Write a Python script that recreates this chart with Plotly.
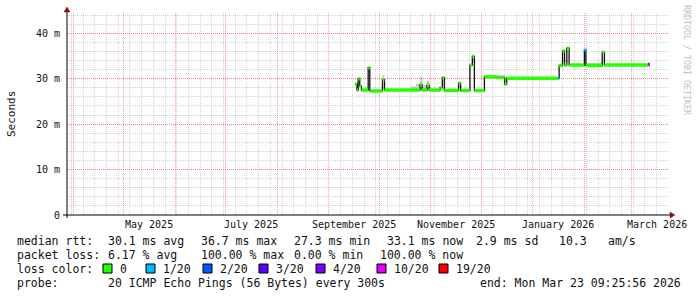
import plotly.graph_objects as go
import datetime as _dt

# ---------------- data ----------------
# median RTT step series (segment start, value in ms, loss count out of 20)
seg_start = [
    "2025-09-16 14:00", "2025-09-17 19:00", "2025-09-18 12:00", "2025-09-19 11:00",
    "2025-09-20 11:00", "2025-09-24 12:00", "2025-09-25 11:00", "2025-10-03 01:00",
    "2025-10-04 06:00", "2025-10-25 12:30", "2025-10-26 17:00", "2025-10-29 17:00",
    "2025-10-30 22:00", "2025-11-06 12:00", "2025-11-07 20:00", "2025-11-09 00:30",
    "2025-11-17 14:00", "2025-11-18 19:00", "2025-11-24 08:30", "2025-11-25 19:00",
    "2025-11-27 00:00", "2025-12-03 00:00", "2025-12-10 08:30", "2025-12-15 03:30",
    "2025-12-16 08:30", "2026-01-16 02:00", "2026-01-16 16:30", "2026-01-18 17:00",
    "2026-01-19 22:00", "2026-01-21 07:00", "2026-01-22 16:00", "2026-01-31 19:00",
    "2026-02-01 16:30", "2026-02-11 11:00", "2026-02-12 18:30", "2026-03-10 20:00",
]
seg_value_ms = [
    28.8, 27.5, 30.0, 28.4,
    27.5, 32.4, 27.3, 29.8,
    27.5, 28.7, 27.5, 28.6,
    27.5, 28.0, 30.2, 27.4,
    29.0, 27.4, 33.0, 34.9,
    27.4, 30.4, 30.3, 28.8,
    30.1, 30.1, 32.9, 36.1,
    33.0, 36.7, 33.0, 36.3,
    32.9, 35.8, 33.0, 33.1,
]
seg_loss = [
    0, 0, 0, 0,
    0, 0, 0, 0,
    0, 0, 0, 0,
    0, 0, 0, 0,
    0, 0, 0, 0,
    0, 0, 0, 0,
    0, 1, 0, 0,
    0, 0, 0, 1,
    0, 0, 0, 10,
]
series_end = "2026-03-12 00:45"

# smoke (ping spread) regions
smoke_start = ["2025-10-03 01:00", "2025-10-20 00:00", "2025-10-23 00:00", "2025-10-25 12:30",
               "2025-10-26 17:00", "2025-10-29 17:00", "2025-10-30 22:00", "2026-02-01 16:30"]
smoke_end = ["2025-10-04 06:00", "2025-10-23 00:00", "2025-10-25 12:30", "2025-10-26 17:00",
             "2025-10-29 17:00", "2025-10-30 22:00", "2025-11-01 00:00", "2026-02-11 11:00"]
smoke_low = [29.6, 27.5, 27.5, 28.6, 27.5, 28.6, 27.5, 32.9]
smoke_high = [30.8, 28.3, 28.9, 30.5, 28.6, 29.6, 28.2, 33.5]

loss_levels = [0, 1, 2, 3, 4, 10, 19]
loss_labels = ["0", "1/20", "2/20", "3/20", "4/20", "10/20", "19/20"]
loss_colors = ["#26ff00", "#00b8ff", "#0059ff", "#5e00ff", "#7e00ff", "#dd00ff", "#ff0000"]

x_range = ["2025-03-28 09:25:56", "2026-03-23 09:25:56"]
y_max = 44.45
y_ticks = [0, 10, 20, 30, 40]
y_ticktext = ["0", "10 m", "20 m", "30 m", "40 m"]

month_label_starts = ["2025-05-01", "2025-07-01", "2025-09-01", "2025-11-01", "2026-01-01", "2026-03-01"]
month_labels = ["May 2025", "July 2025", "September 2025", "November 2025", "January 2026", "March 2026"]

legend_rtt = [("median rtt:", 16), ("30.1 ms avg", 107), ("36.7 ms max", 200), ("27.3 ms min", 293),
              ("33.1 ms now", 386), ("2.9 ms sd", 475), ("10.3", 558), ("am/s", 607)]
legend_loss = [("packet loss:", 16), ("6.17 % avg", 107), ("100.00 % max", 200), ("0.00 % min", 293),
               ("100.00 % now", 379)]
legend_probe = [("probe:", 16), ("20 ICMP Echo Pings (56 Bytes) every 300s", 107),
                ("end: Mon Mar 23 09:25:56 2026", 479)]
square_px = [103, 146, 203, 259, 316, 377, 439]

# ---------------- geometry helpers ----------------
W, H = 697, 297
L, R, T, B = 67, 669, 13, 215
PW, PH = R - L, B - T


def px(x):
    return (x - L) / PW


def py(y):
    return (B - y) / PH


MONO = "DejaVu Sans Mono"

fig = go.Figure()

# smoke
sx, sy = [], []
for s, e, lo, hi in zip(smoke_start, smoke_end, smoke_low, smoke_high):
    sx += [s, e, e, s, s, None]
    sy += [lo, lo, hi, hi, lo, None]
fig.add_trace(go.Scatter(x=sx, y=sy, mode="lines", fill="toself",
                         fillcolor="rgba(150,150,150,0.5)", line=dict(width=0),
                         hoverinfo="skip"))

# dark median line
fig.add_trace(go.Scatter(x=seg_start + [series_end], y=seg_value_ms + [seg_value_ms[-1]],
                         mode="lines", line=dict(color="#111111", width=1.3, shape="hv"),
                         hoverinfo="skip"))

# loss coloured median segments
ends = seg_start[1:] + [series_end]
for lvl, col in zip(loss_levels, loss_colors):
    xs, ys = [], []
    for s, e, v, l in zip(seg_start, ends, seg_value_ms, seg_loss):
        if l == lvl:
            xs += [s, e, None]
            ys += [v, v, None]
    if xs:
        fig.add_trace(go.Scatter(x=xs, y=ys, mode="lines",
                                 line=dict(color=col, width=3.5), hoverinfo="skip"))

MAJ = "rgba(255,0,0,0.38)"
MIN = "rgba(150,150,150,0.42)"
DASH = "1px,1px"

annotations = []


def ann(x, y, text, size=11.5, xanchor="left", yanchor="middle", color="#000", angle=0, xr="paper"):
    annotations.append(dict(x=x, y=y, xref=xr, yref="paper", text=text.replace(" ", "\u00a0"),
                            showarrow=False, xanchor=xanchor, yanchor=yanchor, textangle=angle,
                            font=dict(family=MONO, size=size, color=color), borderpad=0))


# month labels centred mid-month
for d, lab in zip(month_label_starts, month_labels):
    c = _dt.datetime.fromisoformat(d) + _dt.timedelta(days=15.3)
    ann(c.strftime("%Y-%m-%d %H:%M"), py(224.5), lab, size=10, xanchor="center", xr="x",
        color="#111")

ann(px(11), py(114), "Seconds", size=11, xanchor="center", angle=-90, color="#111")
ann(px(687), py(60), "RRDTOOL / TOBI OETIKER", size=8.3, xanchor="center",
    color="#c0c0c0", angle=90)

for text, x in legend_rtt:
    ann(px(x), py(241), text, color="#111")
for text, x in legend_loss:
    ann(px(x), py(255), text, color="#111")
ann(px(16), py(268.5), "loss color:", color="#111")
for x, lab in zip(square_px, loss_labels):
    ann(px(x + 16), py(268.5), lab, color="#111")
for text, x in legend_probe:
    ann(px(x), py(283), text, color="#111")

shapes = []
for x, col in zip(square_px, loss_colors):
    shapes.append(dict(type="rect", xref="paper", yref="paper", x0=px(x), x1=px(x + 9),
                       y0=py(273), y1=py(264), fillcolor=col, line=dict(color="#000", width=1)))

# axes lines and arrows
shapes.append(dict(type="line", xref="paper", yref="paper", x0=px(63), x1=px(671),
                   y0=0, y1=0, line=dict(color="#000", width=1)))
shapes.append(dict(type="line", xref="paper", yref="paper", x0=0, x1=0,
                   y0=py(218), y1=py(11), line=dict(color="#000", width=1)))
arrow_col = "#8b1010"
shapes.append(dict(type="path", xref="paper", yref="paper",
                   path=f"M {px(670)} {py(212)} L {px(675)} {py(215)} L {px(670)} {py(218)} Z",
                   fillcolor=arrow_col, line=dict(color=arrow_col, width=0.5)))
shapes.append(dict(type="path", xref="paper", yref="paper",
                   path=f"M {px(64)} {py(12)} L {px(67)} {py(7)} L {px(70)} {py(12)} Z",
                   fillcolor=arrow_col, line=dict(color=arrow_col, width=0.5)))

fig.update_layout(
    width=W, height=H,
    margin=dict(l=L, r=W - R, t=T, b=H - B, pad=0),
    paper_bgcolor="#ffffff", plot_bgcolor="#ffffff",
    showlegend=False, hovermode=False,
    xaxis=dict(type="date", range=x_range, showgrid=True, dtick="M1", tick0="2025-04-01",
               gridcolor=MAJ, griddash=DASH, gridwidth=1, showticklabels=False, ticks="",
               zeroline=False, showline=False,
               minor=dict(dtick=7 * 86400000, tick0="2025-03-31", showgrid=True,
                          gridcolor=MIN, griddash=DASH, gridwidth=1)),
    yaxis=dict(range=[0, y_max], tickvals=y_ticks, ticktext=y_ticktext, showgrid=True,
               gridcolor=MAJ, griddash=DASH, gridwidth=1, zeroline=False, showline=False,
               ticks="", ticklabelstandoff=6,
               tickfont=dict(family=MONO, size=10, color="#111"),
               minor=dict(dtick=2, showgrid=True, gridcolor=MIN, griddash=DASH, gridwidth=1)),
    annotations=annotations,
    shapes=shapes,
)

fig.write_html("out.html")
